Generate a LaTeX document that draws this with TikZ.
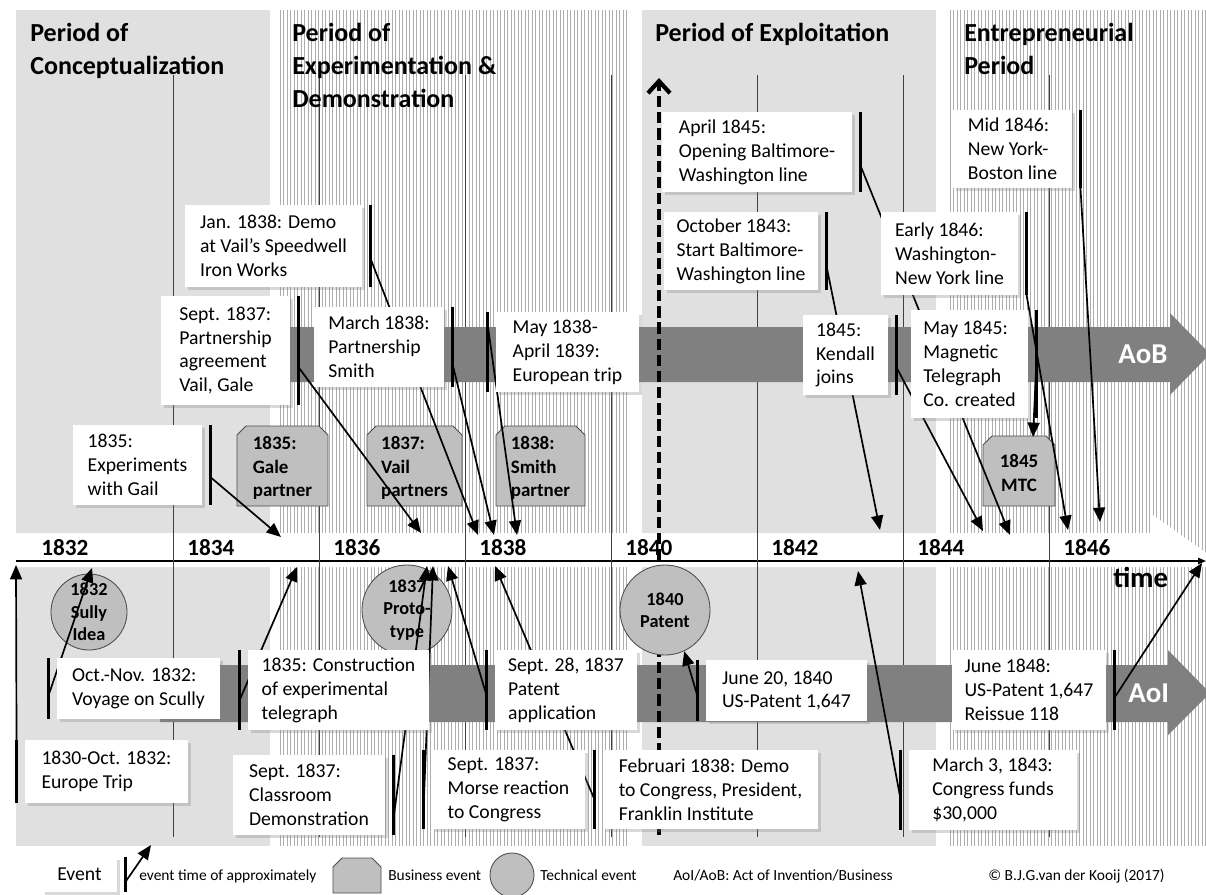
\documentclass[tikz,border=0pt]{standalone}
\usepackage{fontspec}
\setmainfont{Carlito}
\usetikzlibrary{positioning, arrows.meta, shadows}
\pgfdeclarelayer{back}
\pgfdeclarelayer{conn}
\pgfsetlayers{back,conn,main}

\begin{document}
\begin{tikzpicture}[x=0.025cm, y=-0.025cm,
    hatch/.style={black!32, line width=0.4pt},
    grid/.style={black!75, line width=0.7pt},
    band/.style={fill=black!50},
    evbox/.style={fill=white, align=left, inner sep=0pt,
      font=\fontsize{14}{17}\selectfont,
      drop shadow={shadow xshift=0.08cm, shadow yshift=-0.08cm, opacity=0.3}},
    evbar/.style={line width=2.2pt},
    evarr/.style={line width=1.2pt, -{Triangle[length=0.36cm, width=0.3cm]}},
    dasharr/.style={line width=3pt, dash pattern=on 8pt off 3.5pt,
      -{Straight Barb[length=0.3cm, width=0.55cm]}},
    busev/.style={draw=black!70, fill=black!25, line width=0.6pt},
    techev/.style={circle, draw=black!70, fill=black!25, line width=0.6pt, inner sep=0pt},
    evtxt/.style={font=\bfseries\fontsize{13}{16}\selectfont, align=center, inner sep=0pt},
    bustxt/.style={font=\bfseries\fontsize{13.5}{16.8}\selectfont, align=left, inner sep=0pt},
    period/.style={anchor=north west, inner sep=0pt, align=left,
      font=\bfseries\fontsize{18.5}{23.5}\selectfont},
    yearlbl/.style={anchor=base west, inner sep=0pt, font=\bfseries\fontsize{16.5}{20}\selectfont},
    actlbl/.style={anchor=base west, inner sep=0pt, font=\bfseries\fontsize{20.5}{24}\selectfont},
    legtxt/.style={anchor=base west, inner sep=0pt, font=\fontsize{11}{13}\selectfont}
  ]
  \useasboundingbox (0,0) rectangle (1206,895);

  \begin{pgfonlayer}{back}
    % Period backgrounds
    \fill[black!12] (16,10) rectangle (270,846);
    \fill[black!12] (642,10) rectangle (936,846);
    \foreach \x in {280,283.5,...,628} {
      \draw[hatch] (\x,10) -- (\x,846);
    }
    \foreach \x in {950,953.5,...,1206} {
      \draw[hatch] (\x,10) -- (\x,846);
    }

    % Year band and time axis
    \fill[white] (10,533) -- (1150,533) -- (1150,513) -- (1212,557) -- (1212,567) -- (10,567) -- cycle;
    \coordinate (t0) at (16,561);
    \coordinate (t1) at (1206,561);
    \draw[line width=0.8pt, -{Triangle[length=0.2cm, width=0.16cm]}] (t0) -- (t1);
    \foreach \i in {0,...,6} {
      \draw[grid] (173+146*\i,75) -- (173+146*\i,837);
    }

    % Acts of Business and Invention
    \fill[band] (200,327) -- (1170,327) -- (1170,313) -- (1210,354) -- (1170,395) -- (1170,382) -- (200,382) -- cycle;
    \fill[band] (160,665) -- (1168,665) -- (1168,650) -- (1210,693) -- (1168,735) -- (1168,722) -- (160,722) -- cycle;

    % Dashed marker at 1840
    \coordinate (d0) at (659,835);
    \coordinate (d1) at (659,78);
    \draw[dasharr] (d0) -- (d1);

    % Business events (cut top corners)
    \foreach \cx/\cy/\hw/\hh in {282.5/466/45.5/40, 414.5/466/47.5/40, 540.5/466/44.5/40,
        1019/471/36/35, 357/875.5/24/17.5} {
      \draw[busev] (\cx-\hw,\cy+\hh) -- (\cx-\hw,\cy-\hh+9) -- (\cx-\hw+9,\cy-\hh)
        -- (\cx+\hw-9,\cy-\hh) -- (\cx+\hw,\cy-\hh+9) -- (\cx+\hw,\cy+\hh) -- cycle;
    }
    \node[bustxt] (gale) at (282.5,468) {1835:\\Gale\\partner};
    \node[bustxt] (vail) at (414.5,468) {1837:\\Vail\\partners};
    \node[bustxt] (smith) at (540.5,468) {1838:\\Smith\\partner};
    \node[bustxt, align=center] (mtc) at (1019,473) {1845\\MTC};

    % Technical events
    \node[techev, minimum size=1.9cm, label={[evtxt]center:{1832\\Sully\\Idea}}] (sully) at (89,612) {};
    \node[techev, minimum size=2.25cm, label={[evtxt]center:{1837\\Proto-\\type}}] (proto) at (407,610) {};
    \node[techev, minimum size=2.25cm, label={[evtxt]center:{1840\\Patent}}] (patent) at (665,610) {};
  \end{pgfonlayer}

  % Event boxes, upper half
  \node[evbox, minimum width=4.425cm, minimum height=2.05cm] (jan) at (273.5,246) {Jan. 1838: Demo\\at Vail's Speedwell\\Iron Works};
  \node[evbox, minimum width=3.225cm, minimum height=2.725cm] (sep37p) at (225.5,350.5) {Sept. 1837:\\Partnership\\agreement\\Vail, Gale};
  \node[evbox, minimum width=3.25cm, minimum height=2cm] (mar38) at (379,347) {March 1838:\\Partnership\\Smith};
  \node[evbox, minimum width=3.575cm, minimum height=2cm] (may38) at (567.5,352) {May 1838-\\April 1839:\\European trip};
  \node[evbox, minimum width=4.75cm, minimum height=2cm] (apr45) at (757,152) {April 1845:\\Opening Baltimore-\\Washington line};
  \node[evbox, minimum width=3.85cm, minimum height=1.95cm] (oct43) at (741,251) {October 1843:\\Start Baltimore-\\Washington line};
  \node[evbox, minimum width=2.975cm, minimum height=1.95cm] (mid46) at (1012.5,149) {Mid 1846:\\New York-\\Boston line};
  \node[evbox, minimum width=3.425cm, minimum height=2.075cm] (early46) at (949.5,253.5) {Early 1846:\\Washington-\\New York line};
  \node[evbox, minimum width=2.125cm, minimum height=2cm] (kendall) at (845.5,355) {1845:\\Kendall\\joins};
  \node[evbox, minimum width=2.925cm, minimum height=2.7cm] (may45) at (969.5,364) {May 1845:\\Magnetic\\Telegraph\\Co. created};
  \node[evbox, minimum width=3.225cm, minimum height=2cm] (exp35) at (137.5,465) {1835:\\Experiments\\with Gail};

  % Event boxes, lower half
  \node[evbox, minimum width=4.075cm, minimum height=1.525cm] (voyage) at (138.5,688.5) {Oct.-Nov. 1832:\\Voyage on Scully};
  \node[evbox, minimum width=4.525cm, minimum height=2cm] (constr) at (338.5,690) {1835: Construction\\of experimental\\telegraph};
  \node[evbox, minimum width=3.55cm, minimum height=2cm] (patapp) at (566,690) {Sept. 28, 1837\\Patent\\application};
  \node[evbox, minimum width=4.025cm, minimum height=1.525cm] (jun40) at (786.5,690.5) {June 20, 1840\\US-Patent 1,647};
  \node[evbox, minimum width=3.85cm, minimum height=2cm] (jun48) at (1029,690) {June 1848:\\US-Patent 1,647\\Reissue 118};
  \node[evbox, minimum width=4.075cm, minimum height=1.575cm] (europe) at (106.5,771.5) {1830-Oct. 1832:\\Europe Trip};
  \node[evbox, minimum width=3.8cm, minimum height=2cm] (classroom) at (309,795) {Sept. 1837:\\Classroom\\Demonstration};
  \node[evbox, minimum width=3.825cm, minimum height=1.975cm] (morse) at (508.5,789.5) {Sept. 1837:\\Morse reaction\\to Congress};
  \node[evbox, minimum width=5.375cm, minimum height=1.975cm] (feb38) at (710.5,789.5) {Februari 1838: Demo\\to Congress, President,\\Franklin Institute};
  \node[evbox, minimum width=4.2cm, minimum height=2cm] (mar43) at (993,790) {March 3, 1843:\\Congress funds\\\$30,000};

  % Legend
  \node[evbox, minimum width=1.875cm, minimum height=0.875cm] (legev) at (79.5,874.5) {Event};
  \node[legtxt] (legevtxt) at (139,880) {event time of approximately};
  \node[legtxt] (legbustxt) at (388,880) {Business event};
  \node[techev, minimum size=1.1cm] (legtech) at (512,875) {};
  \node[legtxt] (legtechtxt) at (540,880) {Technical event};
  \node[legtxt] (legact) at (673,880) {AoI/AoB: Act of Invention/Business};
  \node[legtxt] (legcopy) at (988,880) {© B.J.G.van der Kooij (2017)};

  % Event bars
  \foreach \nm/\side/\dx in {jan/east/0.2, sep37p/east/0.2, mar38/east/0.2, may38/west/-0.2,
      apr45/east/0.2, oct43/east/0.2, mid46/east/0.2, early46/east/0.2, kendall/east/0.2,
      may45/east/0.2, exp35/east/0.2, voyage/west/-0.2, constr/west/-0.2, patapp/west/-0.2,
      jun40/west/-0.2, jun48/east/0.2, europe/west/-0.2, classroom/east/0.2, morse/west/-0.2,
      feb38/west/-0.2, mar43/west/-0.2, legev/east/0.2} {
    \draw[evbar] ([xshift=\dx cm]\nm.north \side) -- ([xshift=\dx cm]\nm.south \side);
  }

  % Event times on the axis
  \coordinate (jan-t) at (478,535);
  \coordinate (sep37p-t) at (421,533);
  \coordinate (mar38-t) at (494,535);
  \coordinate (may38-t) at (517,535);
  \coordinate (apr45-t) at (1010,535);
  \coordinate (oct43-t) at (880,530);
  \coordinate (mid46-t) at (1100,522);
  \coordinate (early46-t) at (1068,530);
  \coordinate (kendall-t) at (983,531);
  \coordinate (may45-t) at (1033,437);
  \coordinate (exp35-t) at (281,537);
  \coordinate (voyage-t) at (92,568);
  \coordinate (constr-t) at (297,567);
  \coordinate (patapp-t) at (448,566);
  \coordinate (jun40-t) at (patent.-65);
  \coordinate (jun48-t) at (1202,563);
  \coordinate (europe-t) at (16,565);
  \coordinate (classroom-t) at (427,566);
  \coordinate (morse-t) at (433,566);
  \coordinate (feb38-t) at (495,566);
  \coordinate (mar43-t) at (858,571);
  \coordinate (legev-t) at (151,845);

  \begin{pgfonlayer}{conn}
    \foreach \nm/\side/\dx/\dy in {jan/east/0.2/-0.3, sep37p/east/0.2/-0.41, mar38/east/0.2/-0.4,
        may38/west/-0.2/0.68, apr45/east/0.2/-0.33, oct43/east/0.2/-0.35, mid46/east/0.2/-0.9,
        early46/east/0.2/-1.0, kendall/east/0.2/-0.3, may45/east/0.2/0, exp35/east/0.2/-0.3,
        voyage/west/-0.2/-0.16, constr/west/-0.2/-0.25, patapp/west/-0.2/-0.15,
        jun40/west/-0.2/-0.16, jun48/east/0.2/-0.2, europe/west/-0.2/-0.78,
        classroom/east/0.2/-0.63, morse/west/-0.2/-0.39, feb38/west/-0.2/-0.26,
        mar43/west/-0.2/-0.25, legev/east/0.2/-0.19} {
      \draw[evarr] ([xshift=\dx cm, yshift=\dy cm]\nm.\side) -- (\nm-t);
    }
  \end{pgfonlayer}

  % Period titles
  \node[period] (pconc) at (30,23) {Period of\\Conceptualization};
  \node[period] (pexp) at (292,23) {Period of\\Experimentation \&\\Demonstration};
  \node[period] (pexpl) at (655,23) {Period of Exploitation};
  \node[period] (pentr) at (964,23) {Entrepreneurial\\Period};

  % Years and acts
  \foreach \yr [count=\i from 0] in {1832,1834,...,1846} {
    \node[yearlbl] (yr\yr) at (41+146*\i,555) {\yr};
  }
  \node[actlbl, white] (aob) at (1118,363) {AoB};
  \node[actlbl, white] (aoi) at (1128,702) {AoI};
  \node[actlbl] (timelbl) at (1113,587) {time};
\end{tikzpicture}
\end{document}
